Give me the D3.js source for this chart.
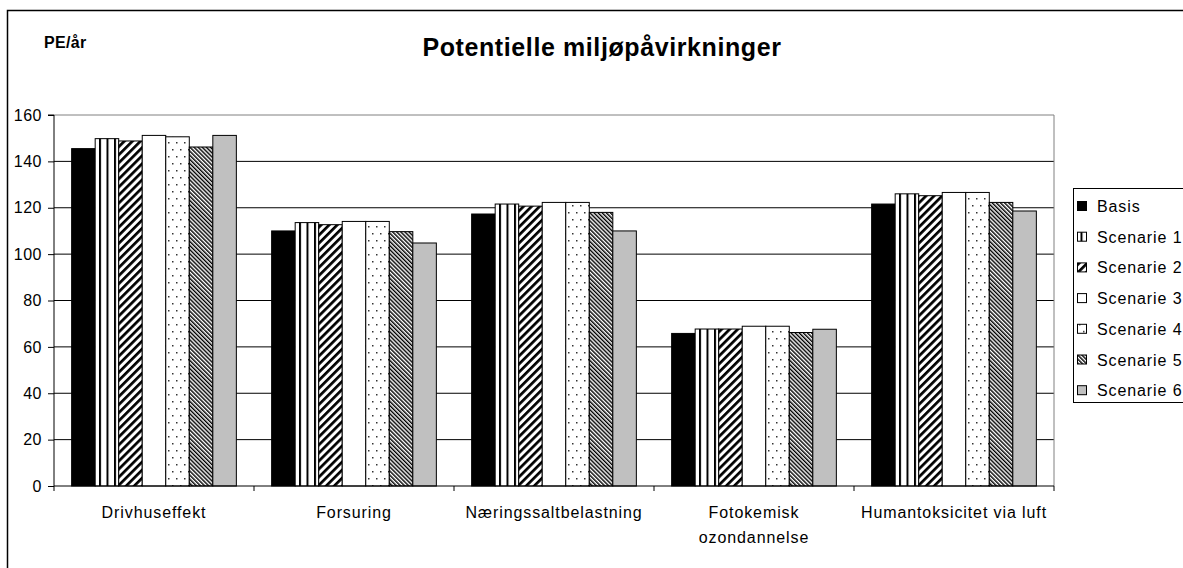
<!DOCTYPE html>
<html><head><meta charset="utf-8">
<script src="https://cdn.jsdelivr.net/npm/d3@7"></script>
<style>
html,body{margin:0;padding:0;background:#fff;}
svg{display:block;}
text{font-family:"Liberation Sans",Arial,sans-serif;fill:#000;}
</style></head>
<body>
<svg id="chart" width="1183" height="568"></svg>
<script>
// ---- data ----
const categories = ["Drivhuseffekt", "Forsuring", "Næringssaltbelastning", "Fotokemisk\nozondannelse", "Humantoksicitet via luft"];
const seriesNames = ["Basis", "Scenarie 1", "Scenarie 2", "Scenarie 3", "Scenarie 4", "Scenarie 5", "Scenarie 6"];
const basis     = [145.5, 110.0, 117.3, 65.8, 121.6];
const scenarie1 = [149.8, 113.6, 121.6, 67.7, 126.0];
const scenarie2 = [148.8, 112.7, 120.7, 67.7, 125.2];
const scenarie3 = [151.2, 114.1, 122.3, 68.9, 126.6];
const scenarie4 = [150.6, 114.1, 122.3, 68.9, 126.6];
const scenarie5 = [146.2, 109.7, 118.0, 66.2, 122.3];
const scenarie6 = [151.2, 104.8, 110.0, 67.6, 118.6];
const yTicks = [0, 20, 40, 60, 80, 100, 120, 140, 160];
const title = "Potentielle miljøpåvirkninger";
const yLabel = "PE/år";

const seriesValues = [basis, scenarie1, scenarie2, scenarie3, scenarie4, scenarie5, scenarie6];
const fills = ["#000", "url(#pVert)", "url(#pDiagUp)", "#fff", "url(#pDots)", "url(#pDiagDown)", "#c0c0c0"];

const svg = d3.select("#chart");
const defs = svg.append("defs");

// patterns
const pv = defs.append("pattern").attr("id","pVert").attr("patternUnits","userSpaceOnUse").attr("width",7.5).attr("height",8);
pv.append("rect").attr("width",7.5).attr("height",8).attr("fill","#fff");
pv.append("rect").attr("x",0).attr("width",2).attr("height",8).attr("fill","#000");

const pu = defs.append("pattern").attr("id","pDiagUp").attr("patternUnits","userSpaceOnUse").attr("width",5.7).attr("height",10).attr("patternTransform","rotate(45)");
pu.append("rect").attr("width",5.7).attr("height",10).attr("fill","#fff");
pu.append("rect").attr("width",2.7).attr("height",10).attr("fill","#000");

const pd = defs.append("pattern").attr("id","pDiagDown").attr("patternUnits","userSpaceOnUse").attr("width",2.9).attr("height",10).attr("patternTransform","rotate(-45)");
pd.append("rect").attr("width",2.9).attr("height",10).attr("fill","#fff");
pd.append("rect").attr("width",1.45).attr("height",10).attr("fill","#000");

const pdots = defs.append("pattern").attr("id","pDots").attr("patternUnits","userSpaceOnUse").attr("width",8).attr("height",14);
pdots.append("rect").attr("width",8).attr("height",14).attr("fill","#fff");
pdots.append("rect").attr("x",2).attr("y",2).attr("width",1.5).attr("height",1.5).attr("fill","#333");
pdots.append("rect").attr("x",6).attr("y",9).attr("width",1.5).attr("height",1.5).attr("fill","#333");

// outer chart border
svg.append("rect").attr("x",7.5).attr("y",10.5).attr("width",1300).attr("height",700)
  .attr("fill","#fff").attr("stroke","#000").attr("stroke-width",1.5);

// plot geometry
const plotL = 54, plotR = 1054, plotT = 115, plotB = 486;
const x0 = d3.scaleBand().domain(categories).range([plotL, plotR]).paddingInner(0).paddingOuter(0);
const groupW = x0.bandwidth();
const barW = groupW / 8.5;
const x1 = d3.scaleBand().domain(seriesNames).range([0.75 * barW, groupW - 0.75 * barW]).padding(0);
const y = d3.scaleLinear().domain([0, 160]).range([plotB, plotT]);

// gridlines
svg.append("g").selectAll("line").data(yTicks.filter(d => d > 0)).join("line")
  .attr("x1", plotL).attr("x2", plotR).attr("y1", d => y(d)).attr("y2", d => y(d))
  .attr("stroke", d => d === 160 ? "#808080" : "#000").attr("stroke-width", 1);
// plot area right border
svg.append("line").attr("x1", plotR).attr("x2", plotR).attr("y1", plotT).attr("y2", plotB)
  .attr("stroke","#808080").attr("stroke-width",1);

// bars
const groups = svg.append("g").selectAll("g").data(categories).join("g")
  .attr("transform", d => `translate(${x0(d)},0)`);
groups.selectAll("rect").data((c, ci) => seriesNames.map((s, si) => ({s, si, v: seriesValues[si][ci]}))).join("rect")
  .attr("x", d => x1(d.s)).attr("width", x1.bandwidth())
  .attr("y", d => y(d.v)).attr("height", d => y(0) - y(d.v))
  .attr("fill", d => fills[d.si]).attr("stroke", "#000").attr("stroke-width", 1);

// y axis
const yAxis = d3.axisLeft(y).tickValues(yTicks).tickSize(6).tickPadding(6).tickFormat(d3.format("d"));
const ya = svg.append("g").attr("transform", `translate(${plotL},0)`).call(yAxis);
ya.select(".domain").attr("stroke","#000").attr("d", `M-6,${plotT}H0V${plotB}`);
ya.selectAll("text").style("font-size","16px").style("letter-spacing","0.5px").style("font-family",'"Liberation Sans",Arial,sans-serif').attr("fill","#000");
ya.selectAll("line").attr("stroke","#000");

// x axis
const xAxis = d3.axisBottom(x0).tickSize(0).tickFormat("");
const xa = svg.append("g").attr("transform", `translate(0,${plotB})`).call(xAxis);
xa.select(".domain").attr("stroke","#000").attr("d", `M${plotL},0H${plotR}`);
// boundary ticks
svg.append("g").selectAll("line").data(d3.range(categories.length + 1)).join("line")
  .attr("x1", i => plotL + i * groupW).attr("x2", i => plotL + i * groupW)
  .attr("y1", plotB).attr("y2", plotB + 5).attr("stroke","#000");
// category labels
const cl = svg.append("g").selectAll("text").data(categories).join("text")
  .attr("x", d => x0(d) + groupW / 2).attr("y", 518)
  .attr("text-anchor","middle").style("font-size","16px").style("letter-spacing","0.9px");
cl.each(function(d) {
  const parts = d.split("\n");
  d3.select(this).selectAll("tspan").data(parts).join("tspan")
    .attr("x", x0(d) + groupW / 2).attr("dy", (p, i) => i === 0 ? 0 : 25).text(p => p);
});

// title
svg.append("text").attr("x", 602).attr("y", 56).attr("text-anchor","middle")
  .style("font-size","25px").style("font-weight","bold").style("letter-spacing","0.6px").text(title);
// y label
svg.append("text").attr("x", 44).attr("y", 48)
  .style("font-size","16px").style("font-weight","bold").style("letter-spacing","0.3px").text(yLabel);

// legend
const lgX = 1073, lgY = 188;
svg.append("rect").attr("x", lgX + 0.5).attr("y", lgY + 0.5).attr("width", 200).attr("height", 214)
  .attr("fill","#fff").attr("stroke","#000").attr("stroke-width",1);
const li = svg.append("g").selectAll("g").data(seriesNames).join("g")
  .attr("transform", (d, i) => `translate(${lgX}, ${lgY + 18 + i * 30.7})`);
li.append("rect").attr("x", 4.5).attr("y", -4.5).attr("width", 9).attr("height", 9)
  .attr("fill", (d, i) => fills[i]).attr("stroke","#000").attr("stroke-width",1);
li.append("text").attr("x", 24).attr("y", 6).style("font-size","16px").style("letter-spacing","0.9px").text(d => d);
</script>
</body></html>
